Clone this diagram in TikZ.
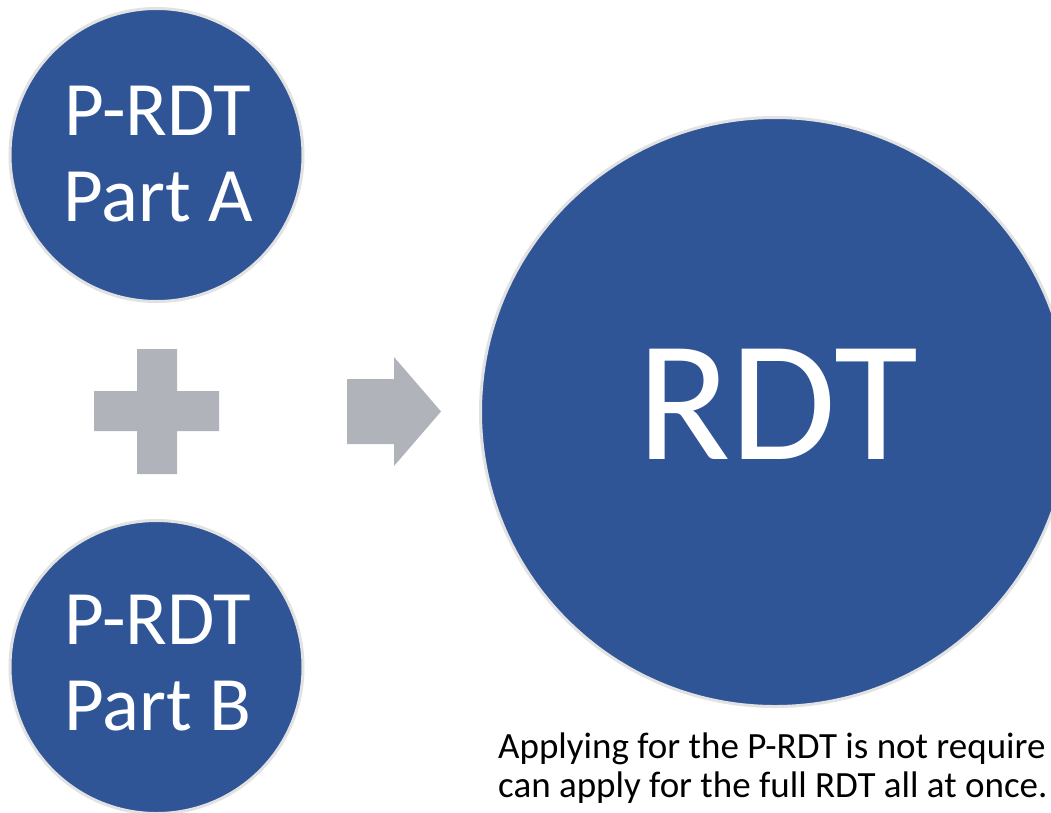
\documentclass[tikz,border=0pt]{standalone}
\usepackage{fontspec}
\setmainfont{Carlito}
\definecolor{discblue}{RGB}{47,85,151}
\definecolor{discrim}{RGB}{226,226,226}
\definecolor{shapegray}{RGB}{176,179,186}
\tikzset{
  disc/.style={circle, draw=discrim, line width=3pt, fill=discblue, inner sep=0pt},
  disctext/.style={text=white, align=center, inner sep=0pt, font=\fontsize{77}{86}\selectfont},
  bigtext/.style={text=white, inner sep=0pt, font=\fontsize{172}{200}\selectfont},
  notetext/.style={text=black, inner sep=0pt, anchor=base west, font=\fontsize{37}{39}\selectfont},
  symbolfill/.style={fill=shapegray, draw=none}
}
\begin{document}
\begin{tikzpicture}[x=1pt,y=-1pt]
\useasboundingbox (0,0) rectangle (1051,812);
\clip (0,0) rectangle (1051,812);
\fill[white] (0,0) rectangle (1051,812);
% circles
\node[disc, minimum size=293pt] (partA) at (156.5,155) {};
\node[disc, minimum size=293pt] (partB) at (156.5,667) {};
\node[disc, minimum size=589pt] (rdt) at (775,412) {};
% texts in circles
\node[disctext] (partAtext) at (158,154) {P-RDT\\Part A};
\node[disctext] (partBtext) at (158,663.5) {P-RDT\\Part B};
\node[bigtext] (rdttext) at (778,404.5) {RDT};
% plus sign
\path[symbolfill] (137,349) -- (177,349) -- (177,391) -- (219,391) -- (219,431)
  -- (177,431) -- (177,474) -- (137,474) -- (137,431) -- (94,431) -- (94,391)
  -- (137,391) -- cycle;
% block arrow
\path[symbolfill] (347,379) -- (394,379) -- (394,357) -- (441,411.5) -- (394,466)
  -- (394,444) -- (347,444) -- cycle;
% note
\node[notetext] (note1) at (498,758) {Applying for the P-RDT is not require};
\node[notetext] (note2) at (498,797) {can apply for the full RDT all at once.};
\end{tikzpicture}
\end{document}
